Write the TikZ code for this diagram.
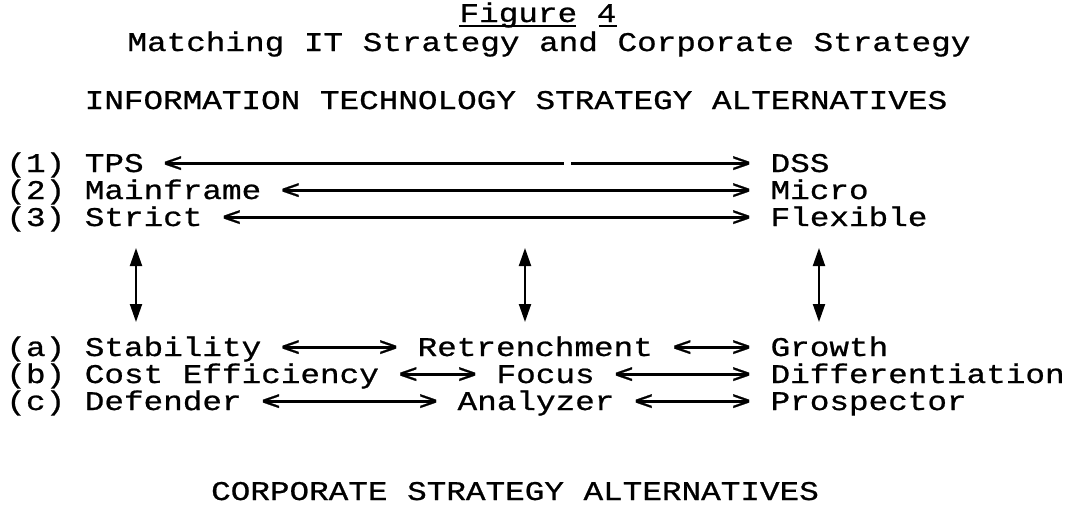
\documentclass[tikz,border=0pt]{standalone}
\usepackage{fontspec}
\setmonofont{Liberation Mono}[FakeStretch=1.21, FakeBold=0.8]
\usepackage{tikz}
\usetikzlibrary{
  arrows.meta,
  positioning,
  calc}
\tikzset{every picture/.style={font issue=\fontsize{13.5}{16}\ttfamily},
         font issue/.style={execute at begin picture={#1\selectfont}}
        }
\tikzset{word/.style={anchor=base west, inner sep=0pt, text height=0.62em, text depth=0em},
         head/.style={anchor=base, inner sep=0pt},
         bar/.style={line width=1.6pt, shorten <=-8.4pt, shorten >=-8.4pt},
         link/.style={{Triangle[length=9pt,width=6pt]}-{Triangle[length=9pt,width=6pt]}, line width=1pt}
        }

\begin{document}
\begin{tikzpicture}[x=0.5pt, y=-0.5pt]
\useasboundingbox (0,0) rectangle (1073,516);

\node[head](fig) at (538,22){Figure 4};
\node[head](title) at (549,51){Matching IT Strategy and Corporate Strategy};
\node[head](ithead) at (516,109){INFORMATION TECHNOLOGY STRATEGY ALTERNATIVES};

% IT strategy rows
\node[word](tps) at (6,172){(1) TPS <};
\node[word](dss) at (731,172){> DSS};
\node[word](main) at (6,199){(2) Mainframe <};
\node[word](micro) at (731,199){> Micro};
\node[word](strict) at (6,226){(3) Strict <};
\node[word](flex) at (731,226){> Flexible};

% corporate strategy rows
\node[word](stab) at (6,356){(a) Stability <};
\node[word](retr) at (378,356){> Retrenchment <};
\node[word](grow) at (731,356){> Growth};
\node[word](cost) at (6,383){(b) Cost Efficiency <};
\node[word](focus) at (457,383){> Focus <};
\node[word](diff) at (731,383){> Differentiation};
\node[word](def) at (6,410){(c) Defender <};
\node[word](anal) at (418,410){> Analyzer <};
\node[word](prosp) at (731,410){> Prospector};

\node[head](cshead) at (515,500){CORPORATE STRATEGY ALTERNATIVES};

\coordinate (up1) at (136,248);
\coordinate (dn1) at (136,322);
\coordinate (up2) at (525,248);
\coordinate (dn2) at (525,322);
\coordinate (up3) at (819,248);
\coordinate (dn3) at (819,322);

% underlines of the figure number
\draw[line width=0.9pt] ([yshift=-2pt]fig.base west) -- ++(117,0);
\draw[line width=0.9pt] ([yshift=-2pt]fig.base east) -- ++(-18,0);

\draw[bar, dash pattern=on 199pt off 3.5pt on 400pt] (tps) -- (dss);
\draw[bar] (main) -- (micro);
\draw[bar] (strict) -- (flex);
\draw[bar] (stab) -- (retr);
\draw[bar] (retr) -- (grow);
\draw[bar] (cost) -- (focus);
\draw[bar] (focus) -- (diff);
\draw[bar] (def) -- (anal);
\draw[bar] (anal) -- (prosp);

\draw[link] (up1) -- (dn1);
\draw[link] (up2) -- (dn2);
\draw[link] (up3) -- (dn3);
\end{tikzpicture}
\end{document}
